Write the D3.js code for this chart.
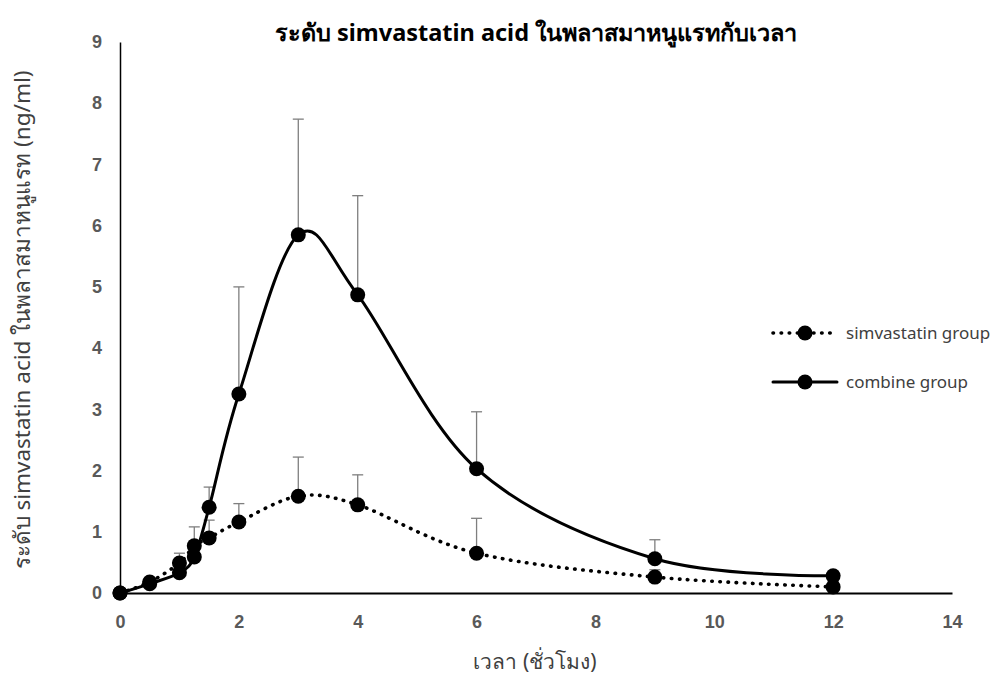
<!DOCTYPE html>
<html>
<head>
<meta charset="utf-8">
<script src="https://cdn.jsdelivr.net/npm/d3@7"></script>
<style>
  html, body { margin: 0; padding: 0; background: #fff; }
  svg { display: block; font-family: "Noto Sans", "DejaVu Sans", sans-serif; }
</style>
</head>
<body>
<svg id="chart" width="997" height="680"></svg>
<script>
// Sampling times (hours)
const times = [0, 0.5, 1, 1.25, 1.5, 2, 3, 4, 6, 9, 12];

// Mean plasma simvastatin acid (ng/ml) and upper SD per group
const simvastatinMean = [0, 0.18, 0.49, 0.77, 0.90, 1.16, 1.58, 1.44, 0.65, 0.26, 0.10];
const simvastatinSD   = [0, 0.04, 0.16, 0.08, 0.29, 0.30, 0.64, 0.49, 0.57, 0.12, 0.03];
const combineMean     = [0, 0.15, 0.33, 0.59, 1.40, 3.25, 5.85, 4.87, 2.03, 0.56, 0.28];
const combineSD       = [0, 0.04, 0.08, 0.49, 0.33, 1.75, 1.89, 1.62, 0.93, 0.31, 0.05];

const xTicks = [0, 2, 4, 6, 8, 10, 12, 14];
const yTicks = [0, 1, 2, 3, 4, 5, 6, 7, 8, 9];

const seriesNames = ["simvastatin group", "combine group"];

const titleText = "ระดับ simvastatin acid ในพลาสมาหนูแรทกับเวลา";
const xTitle = "เวลา (ชั่วโมง)";
const yTitle = "ระดับ simvastatin acid ในพลาสมาหนูแรท (ng/ml)";

const series = [
  { name: seriesNames[0], mean: simvastatinMean, sd: simvastatinSD, dash: "0.5 7.6", width: 3.6 },
  { name: seriesNames[1], mean: combineMean, sd: combineSD, dash: null, width: 3 }
];

const svg = d3.select("#chart");
const x = d3.scaleLinear().domain([0, 14]).range([120, 952]);
const y = d3.scaleLinear().domain([0, 9]).range([593, 42]);

// Axes (Excel style: no tick marks)
const xAxis = svg.append("g")
  .attr("transform", `translate(0,${y(0)})`)
  .call(d3.axisBottom(x).tickValues(xTicks).tickSize(0).tickPadding(22).tickFormat(d3.format("d")));
xAxis.select(".domain").attr("stroke", "#000").attr("stroke-width", 2);
xAxis.selectAll("text").attr("fill", "#595959").attr("font-size", 18).attr("font-weight", "bold");

const yAxis = svg.append("g")
  .attr("transform", `translate(${x(0)},0)`)
  .call(d3.axisLeft(y).tickValues(yTicks).tickSize(0).tickPadding(18).tickFormat(d3.format("d")));
yAxis.select(".domain").attr("stroke", "#000").attr("stroke-width", 1.5);
yAxis.selectAll("text").attr("fill", "#595959").attr("font-size", 18).attr("font-weight", "bold");

// Error bars (upper only), drawn beneath the lines and markers
const capHalf = 5.5;
series.forEach(s => {
  const g = svg.append("g").attr("stroke", "#7f7f7f").attr("stroke-width", 1.3);
  times.forEach((t, i) => {
    if (s.sd[i] <= 0) return;
    const top = y(s.mean[i] + s.sd[i]);
    g.append("line").attr("x1", x(t)).attr("x2", x(t)).attr("y1", y(s.mean[i])).attr("y2", top);
    g.append("line").attr("x1", x(t) - capHalf).attr("x2", x(t) + capHalf).attr("y1", top).attr("y2", top);
  });
});

// Smoothed lines
const line = d3.line().curve(d3.curveCatmullRom.alpha(0));
series.forEach(s => {
  svg.append("path")
    .datum(times.map((t, i) => [x(t), y(s.mean[i])]))
    .attr("d", line)
    .attr("fill", "none")
    .attr("stroke", "#000")
    .attr("stroke-width", s.width)
    .attr("stroke-linecap", "round")
    .attr("stroke-dasharray", s.dash);
});

// Markers
series.forEach(s => {
  svg.append("g").selectAll("circle")
    .data(times)
    .join("circle")
    .attr("cx", t => x(t))
    .attr("cy", (t, i) => y(s.mean[i]))
    .attr("r", 7.5)
    .attr("fill", "#000");
});

// Legend
const legend = svg.append("g");
series.forEach((s, i) => {
  const ly = 333 + i * 49;
  legend.append("line")
    .attr("x1", 773).attr("x2", 837).attr("y1", ly).attr("y2", ly)
    .attr("stroke", "#000").attr("stroke-width", s.width)
    .attr("stroke-linecap", "round")
    .attr("stroke-dasharray", s.dash);
  legend.append("circle").attr("cx", 805).attr("cy", ly).attr("r", 7.5).attr("fill", "#000");
  legend.append("text")
    .attr("x", 846).attr("y", ly).attr("dy", "0.35em")
    .attr("font-size", 17).attr("fill", "#404040")
    .text(s.name);
});

// Titles
svg.append("text")
  .attr("x", 536).attr("y", 33).attr("dy", "0.35em")
  .attr("text-anchor", "middle").attr("font-size", 23.5).attr("font-weight", "bold").attr("fill", "#000")
  .text(titleText);

svg.append("text")
  .attr("x", 535).attr("y", 662).attr("dy", "0.35em")
  .attr("text-anchor", "middle").attr("font-size", 21).attr("fill", "#404040")
  .text(xTitle);

svg.append("text")
  .attr("transform", "translate(22,320) rotate(-90)")
  .attr("dy", "0.35em")
  .attr("text-anchor", "middle").attr("font-size", 22.5).attr("fill", "#404040")
  .text(yTitle);
</script>
</body>
</html>
